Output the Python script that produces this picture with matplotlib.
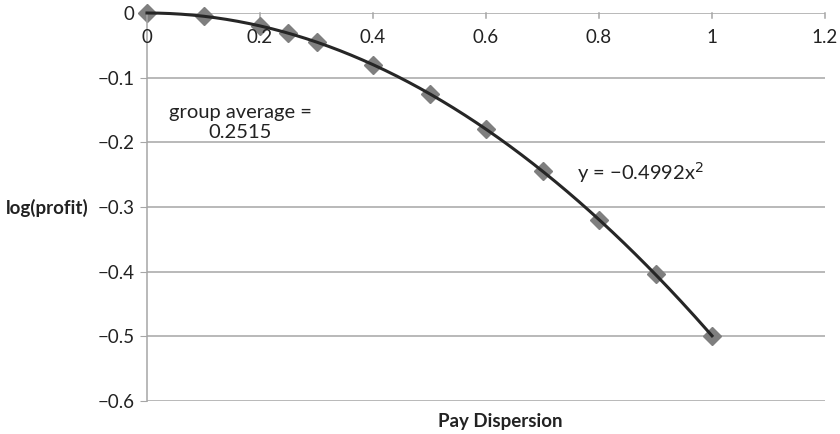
import matplotlib.pyplot as plt
import numpy as np

# pay dispersion vs log(profit)
pay_dispersion = [0, 0.1, 0.2, 0.25, 0.3, 0.4, 0.5, 0.6, 0.7, 0.8, 0.9, 1.0]
log_profit = [0, -0.005, -0.02, -0.031, -0.045, -0.08, -0.125, -0.18, -0.245, -0.32, -0.404, -0.499]
trend_coef = -0.4992

x_ticks = [0, 0.2, 0.4, 0.6, 0.8, 1, 1.2]
y_ticks = [0, -0.1, -0.2, -0.3, -0.4, -0.5, -0.6]

plt.rcParams["font.family"] = ["Lato", "DejaVu Sans"]

fig = plt.figure(figsize=(8.4, 4.34), dpi=100)
ax = fig.add_axes([147 / 840, 1 - 401 / 434, 678 / 840, 388 / 434])

grid_col = "#a6a6a6"
txt_col = "#222222"
for yv in y_ticks:
    ax.axhline(yv, color=grid_col, lw=1.1, zorder=1)

# trend line
xs = np.linspace(0, 1, 200)
ax.plot(xs, trend_coef * xs ** 2, color="#262626", lw=2.2, zorder=3, clip_on=False)
ax.plot(pay_dispersion, log_profit, ls="none", marker="D", ms=9,
        color="#7f7f7f", mec="#7f7f7f", zorder=2, clip_on=False)

ax.set_xlim(0, 1.2)
ax.set_ylim(-0.6, 0)

for s in ["top", "right", "bottom"]:
    ax.spines[s].set_visible(False)
ax.spines["left"].set_color(grid_col)
ax.spines["left"].set_linewidth(1.1)

ax.set_yticks(y_ticks)
ax.set_yticklabels(["0" if v == 0 else "\u2212%.1f" % abs(v) for v in y_ticks])
ax.tick_params(axis="y", length=5, colors=grid_col, labelsize=13.5, pad=4)
for lab in ax.get_yticklabels():
    lab.set_color(txt_col)

ax.set_xticks([])
for xv in x_ticks:
    ax.plot([xv, xv], [0, -0.008], color=grid_col, lw=1.1, clip_on=False, zorder=1)
    ax.text(xv, -0.038, "%g" % xv, ha="center", va="center", fontsize=13.5, color=txt_col)

ax.text(0.165, -0.169, "group average =\n0.2515", ha="center", va="center",
        fontsize=14.5, color=txt_col, linespacing=1.25)
ax.text(0.761, -0.247, "y = \u22120.4992x$^2$", ha="left", va="center",
        fontsize=14.5, color=txt_col)

fig.text(6 / 840, 1 - 208 / 434, "log(profit)", ha="left", va="center",
         fontsize=13.5, fontweight="bold", color=txt_col)
fig.text(500 / 840, 1 - 422 / 434, "Pay Dispersion", ha="center", va="center",
         fontsize=13.5, fontweight="bold", color=txt_col)

fig.savefig("out.png", dpi=100)
